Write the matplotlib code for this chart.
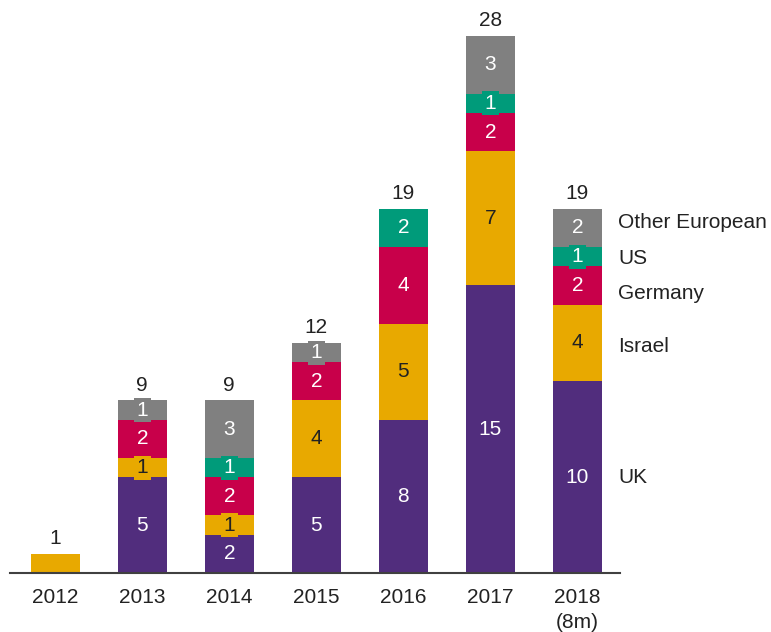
import numpy as np
import matplotlib.pyplot as plt

plt.rcParams['font.family'] = ['Liberation Sans', 'DejaVu Sans']

# data
years = ["2012", "2013", "2014", "2015", "2016", "2017", "2018\n(8m)"]
series = ["UK", "Israel", "Germany", "US", "Other European"]
uk = [0, 5, 2, 5, 8, 15, 10]
israel = [1, 1, 1, 4, 5, 7, 4]
germany = [0, 2, 2, 2, 4, 2, 2]
us = [0, 0, 1, 0, 2, 1, 1]
other = [0, 1, 3, 1, 0, 3, 2]

colors = ["#512D7D", "#E8A900", "#C8004A", "#009B7A", "#808080"]
text_colors = ["white", "#222222", "white", "white", "white"]

values = [uk, israel, germany, us, other]
x = np.arange(len(years))
totals = np.sum(values, axis=0)
fs = 15

fig = plt.figure(figsize=(7.71, 6.32), dpi=100)
ax = fig.add_axes([10 / 771, 59 / 632, 610 / 771, 556 / 632])

bottom = np.zeros(len(years))
for name, vals, col, tcol in zip(series, values, colors, text_colors):
    vals = np.array(vals)
    ax.bar(x, vals, bottom=bottom, width=0.56, color=col, edgecolor="none")
    for i in range(len(years)):
        if vals[i] == 0 or vals[i] == totals[i]:
            continue
        ax.text(x[i], bottom[i] + vals[i] / 2, str(vals[i]), ha="center", va="center",
                fontsize=fs, color=tcol,
                bbox=dict(boxstyle="square,pad=0.12", fc=col, ec="none"))
    bottom += vals

for i in range(len(years)):
    ax.text(x[i], totals[i] + 0.3, str(totals[i]), ha="center", va="bottom",
            fontsize=fs, color="#222222")

# series names next to last bar
nudge = [0, -0.2, -0.4, -0.1, 0.3]
cum = np.cumsum([v[-1] for v in values])
starts = cum - np.array([v[-1] for v in values])
for name, s, c, n in zip(series, starts, cum, nudge):
    ax.text(x[-1] + 0.47, (s + c) / 2 + n, name, ha="left", va="center",
            fontsize=fs, color="#222222", clip_on=False)

ax.set_xlim(-0.52, 6.49)
ax.set_ylim(0, 29)
ax.set_xticks(x)
ax.set_xticklabels(years, fontsize=fs, color="#222222", linespacing=1.35)
ax.tick_params(axis="x", length=0, pad=11)
ax.set_yticks([])
for s in ["top", "right", "left"]:
    ax.spines[s].set_visible(False)
ax.spines["bottom"].set_color("#404040")
ax.spines["bottom"].set_linewidth(1.5)

fig.savefig("out.png", dpi=100)
